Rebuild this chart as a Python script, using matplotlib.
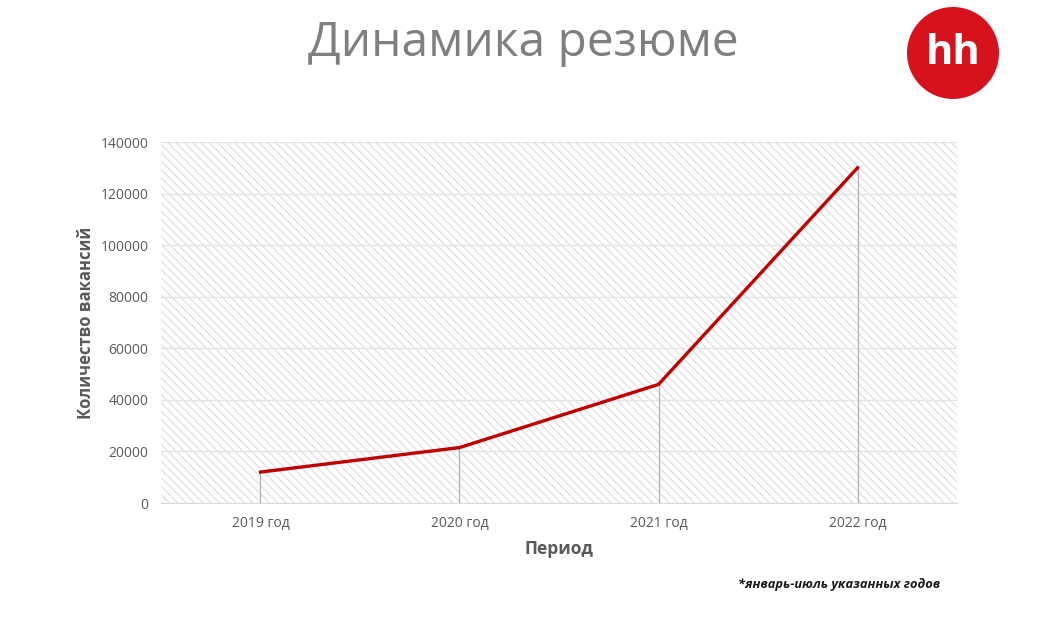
import matplotlib.pyplot as plt
import matplotlib.patches as mpatches

years = ['2019 год', '2020 год', '2021 год', '2022 год']
resumes = [12000, 21500, 46000, 130000]
y_ticks = [0, 20000, 40000, 60000, 80000, 100000, 120000, 140000]

plt.rcParams['font.family'] = ['Open Sans', 'DejaVu Sans']
plt.rcParams['hatch.color'] = '#dcdcdc'
plt.rcParams['hatch.linewidth'] = 0.8

fig = plt.figure(figsize=(10.48, 6.22), dpi=100)
ax = fig.add_axes([0.1536, 0.1913, 0.7596, 0.5804])

# hatched plot background
bg = mpatches.Rectangle((0, 0), 1, 1, transform=ax.transAxes, facecolor='white',
                        hatch='\\\\\\\\', edgecolor='#dcdcdc', linewidth=0, zorder=0)
ax.add_patch(bg)

x = list(range(len(years)))
ax.vlines(x, 0, resumes, colors='#b0b0b0', linewidth=0.9, zorder=2)
ax.plot(x, resumes, color='#c00000', linewidth=2.4, zorder=3)

ax.set_xlim(-0.5, len(years) - 0.5)
ax.set_ylim(0, 140000)
ax.set_yticks(y_ticks)
ax.set_yticklabels([str(v) for v in y_ticks])
ax.set_xticks(x)
ax.set_xticklabels(years)
ax.grid(axis='y', color='#e3e3e3', linewidth=1, zorder=1)
ax.set_axisbelow(True)
ax.tick_params(length=0, labelsize=10, colors='#595959', pad=9)
for s in ['top', 'right', 'left']:
    ax.spines[s].set_visible(False)
ax.spines['bottom'].set_color('#d9d9d9')

ax.set_xlabel('Период', fontsize=12.5, fontweight='bold', color='#595959', labelpad=7)
ax.set_ylabel('Количество вакансий', fontsize=12, fontweight='bold', color='#595959', labelpad=4)

fig.text(0.499, 0.930, 'Динамика резюме', ha='center', va='center',
         fontsize=34.5, color='#7f7f7f')
fig.text(0.897, 0.060, '*январь-июль указанных годов', ha='right', va='center',
         fontsize=9.3, style='italic', fontweight='bold', color='#1a1a1a')

# hh logo
logo = mpatches.Circle((9.53, 6.22 - 0.53), 0.46, transform=fig.dpi_scale_trans,
                       facecolor='#d6121c', edgecolor='none')
fig.patches.append(logo)
fig.text(953 / 1048, 1 - 53 / 622, 'hh', ha='center', va='center',
         fontsize=30, fontweight='bold', color='white')

fig.savefig('out.png', dpi=100)
